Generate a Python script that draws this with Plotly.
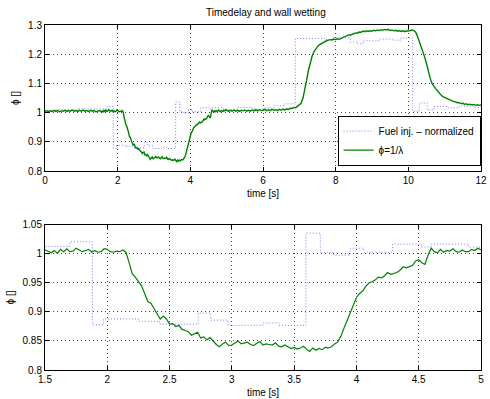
import numpy as np
import plotly.graph_objects as go
from plotly.subplots import make_subplots

# ---------------- data ----------------
# measured phi = 1/lambda, segment A: t = 0.00 .. 1.45 step 0.05
phi_a = [1.004, 1.007, 1.003, 1.006, 1.004, 1.008, 1.004, 1.007, 1.003, 1.006,
         1.005, 1.008, 1.004, 1.007, 1.005, 1.009, 1.005, 1.007, 1.004, 1.008,
         1.005, 1.009, 1.005, 1.007, 1.004, 1.008, 1.005, 1.007, 1.003, 1.006]
# segment B: t = 1.500 .. 5.000 step 0.025
phi_b = [1.007, 1.005, 1.002, 1.006, 1.001, 1.008, 1.004, 1.009, 1.004, 1.005,
         1.010, 1.007, 1.004, 1.006, 1.008, 1.003, 1.006, 1.003, 1.004, 1.009,
         1.008, 1.004, 1.003, 1.005, 1.004, 1.007, 1.003, 0.985, 0.966, 0.960,
         0.953, 0.945, 0.932, 0.918, 0.915, 0.905, 0.897, 0.888, 0.893, 0.888,
         0.879, 0.880, 0.875, 0.877, 0.870, 0.868, 0.866, 0.860, 0.863, 0.865,
         0.855, 0.857, 0.852, 0.856, 0.850, 0.844, 0.840, 0.845, 0.848, 0.842,
         0.843, 0.846, 0.850, 0.845, 0.846, 0.848, 0.844, 0.842, 0.846, 0.849,
         0.843, 0.845, 0.844, 0.843, 0.847, 0.841, 0.840, 0.843, 0.840, 0.837,
         0.839, 0.836, 0.838, 0.841, 0.836, 0.832, 0.838, 0.834, 0.837, 0.835,
         0.839, 0.838, 0.840, 0.845, 0.848, 0.858, 0.872, 0.885, 0.900, 0.912,
         0.925, 0.932, 0.936, 0.944, 0.950, 0.952, 0.955, 0.960, 0.959, 0.962,
         0.968, 0.965, 0.966, 0.968, 0.972, 0.978, 0.976, 0.978, 0.980, 0.988,
         0.990, 0.985, 0.982, 0.998, 1.010, 1.004, 1.002, 1.008, 1.003, 1.006,
         1.005, 1.009, 1.004, 1.003, 1.007, 1.004, 1.004, 1.008, 1.006, 1.010,
         1.007]
# segment C: t = 5.05 .. 12.00 step 0.05
phi_c = [1.004, 1.008, 1.005, 1.009, 1.005, 1.008, 1.004, 1.008, 1.006, 1.009,
         1.005, 1.008, 1.005, 1.009, 1.006, 1.010, 1.006, 1.010, 1.007,
         1.008, 1.011, 1.007, 1.010, 1.007, 1.011, 1.008, 1.010, 1.007, 1.011,
         1.008, 1.012, 1.009, 1.013, 1.011, 1.015, 1.014, 1.018, 1.017, 1.022,
         1.024, 1.032, 1.050, 1.075, 1.110, 1.145, 1.172, 1.192, 1.208, 1.218,
         1.226, 1.232, 1.236, 1.240, 1.244, 1.246, 1.248, 1.250, 1.249, 1.252,
         1.250, 1.253, 1.251, 1.254, 1.256, 1.260, 1.262, 1.266, 1.265, 1.268,
         1.270, 1.273, 1.272, 1.276, 1.275, 1.279, 1.277, 1.280, 1.278, 1.280,
         1.279, 1.282, 1.280, 1.283, 1.281, 1.284, 1.282, 1.285, 1.283, 1.285,
         1.281, 1.283, 1.280, 1.282, 1.279, 1.281, 1.278, 1.280, 1.277, 1.280,
         1.279, 1.281, 1.283, 1.281, 1.276, 1.262, 1.245, 1.228, 1.211, 1.190,
         1.168, 1.140, 1.118, 1.100, 1.090, 1.082, 1.075, 1.066, 1.060, 1.055,
         1.052, 1.048, 1.046, 1.042, 1.041, 1.038, 1.037, 1.034, 1.034, 1.031,
         1.032, 1.029, 1.030, 1.027, 1.029, 1.026, 1.028, 1.025, 1.027, 1.025,
         1.026]

# fuel injection (normalized), step changes: start time and level
fuel_t = [0.0, 0.3, 0.9, 1.7, 1.88, 1.97, 2.25, 2.42, 2.73, 2.83, 2.97, 3.25,
          3.38, 3.595, 3.71, 3.82, 3.95, 4.06, 4.29, 4.52, 4.6, 4.9, 5.0, 5.3,
          5.7, 6.0, 6.3, 6.6, 6.89, 7.7, 7.9, 8.4, 8.6, 8.75, 9.2, 9.6, 9.8,
          10.12, 10.3, 10.52, 10.7, 11.1, 11.4, 11.8, 12.0]
fuel_v = [1.005, 1.010, 1.013, 1.021, 0.878, 0.888, 0.884, 0.879, 0.898, 0.886,
          0.877, 0.881, 0.877, 1.036, 1.003, 0.998, 1.010, 1.003, 1.017, 1.012,
          1.017, 1.012, 1.010, 1.018, 1.012, 1.016, 1.024, 1.030, 1.254, 1.250,
          1.256, 1.242, 1.236, 1.246, 1.252, 1.248, 1.256, 1.005, 1.033, 1.009,
          1.021, 1.016, 1.022, 1.018, 1.018]

top_xticks = [0, 2, 4, 6, 8, 10, 12]
top_yticks = [0.8, 0.9, 1.0, 1.1, 1.2, 1.3]
top_yticktext = ["0.8", "0.9", "1", "1.1", "1.2", "1.3"]
bot_xticks = [1.5, 2, 2.5, 3, 3.5, 4, 4.5, 5]
bot_xticktext = ["1.5", "2", "2.5", "3", "3.5", "4", "4.5", "5"]
bot_yticks = [0.8, 0.85, 0.9, 0.95, 1.0, 1.05]
bot_yticktext = ["0.8", "0.85", "0.9", "0.95", "1", "1.05"]

# time bases
t_a = np.round(0.0 + 0.05 * np.arange(len(phi_a)), 3)
t_b = np.round(1.5 + 0.025 * np.arange(len(phi_b)), 3)
t_c = np.round(5.05 + 0.05 * np.arange(len(phi_c)), 3)
phi_t = np.concatenate([t_a, t_b, t_c])
phi_v = phi_a + phi_b + phi_c

# ---------------- figure ----------------
FONT = "Liberation Sans, Arial, Helvetica, sans-serif"
BLUE = "#7a7aff"
GREEN = "#008000"
FUEL_DASH = "1px,2px"

fig = make_subplots(rows=2, cols=1, vertical_spacing=0.0)

fig.add_trace(go.Scatter(x=fuel_t, y=fuel_v, mode="lines", line_shape="hv",
                         line=dict(color=BLUE, width=1, dash=FUEL_DASH),
                         name="Fuel inj. \u2013 normalized"), row=1, col=1)
fig.add_trace(go.Scatter(x=phi_t, y=phi_v, mode="lines",
                         line=dict(color=GREEN, width=1.4),
                         name="\u03d5=1/\u03bb"), row=1, col=1)
fig.add_trace(go.Scatter(x=fuel_t, y=fuel_v, mode="lines", line_shape="hv",
                         line=dict(color=BLUE, width=1, dash=FUEL_DASH),
                         showlegend=False), row=2, col=1)
fig.add_trace(go.Scatter(x=phi_t, y=phi_v, mode="lines",
                         line=dict(color=GREEN, width=1.2),
                         showlegend=False), row=2, col=1)

axis_common = dict(showline=True, linecolor="black", linewidth=1, mirror="ticks",
                   ticks="inside", ticklen=4, tickcolor="black", tickwidth=1,
                   showgrid=True, gridcolor="#444444", gridwidth=1, griddash="1px,3px",
                   zeroline=False, tickfont=dict(size=10, color="black", family=FONT))

fig.update_xaxes(**axis_common)
fig.update_yaxes(**axis_common)

fig.update_xaxes(range=[0, 12], tickvals=top_xticks, row=1, col=1,
                 title=dict(text="time [s]", font=dict(size=10, family=FONT, color="black"), standoff=4))
fig.update_yaxes(range=[0.8, 1.3], tickvals=top_yticks, ticktext=top_yticktext, row=1, col=1,
                 domain=[0.5767, 1.0],
                 title=dict(text="\u03d5 []", font=dict(size=10, family=FONT, color="black"), standoff=6))
fig.update_xaxes(range=[1.5, 5], tickvals=bot_xticks, ticktext=bot_xticktext, row=2, col=1,
                 title=dict(text="time [s]", font=dict(size=10, family=FONT, color="black"), standoff=4))
fig.update_yaxes(range=[0.8, 1.05], tickvals=bot_yticks, ticktext=bot_yticktext, row=2, col=1,
                 domain=[0.0, 0.4204],
                 title=dict(text="\u03d5 []", font=dict(size=10, family=FONT, color="black"), standoff=6))

fig.update_layout(
    width=490, height=399,
    margin=dict(l=45, r=3, t=25, b=26),
    paper_bgcolor="white", plot_bgcolor="white",
    font=dict(family=FONT, size=10, color="black"),
    title=dict(text="Timedelay and wall wetting", x=0.5426, xanchor="center",
               y=0.968, yanchor="middle", font=dict(size=10, family=FONT, color="black")),
    legend=dict(x=0.999, xanchor="right", y=0.5925, yanchor="bottom",
                bgcolor="white", bordercolor="black", borderwidth=1,
                font=dict(size=10, family=FONT, color="black"),
                itemwidth=30, tracegroupgap=0),
    showlegend=True,
)

fig.write_html("out.html")
